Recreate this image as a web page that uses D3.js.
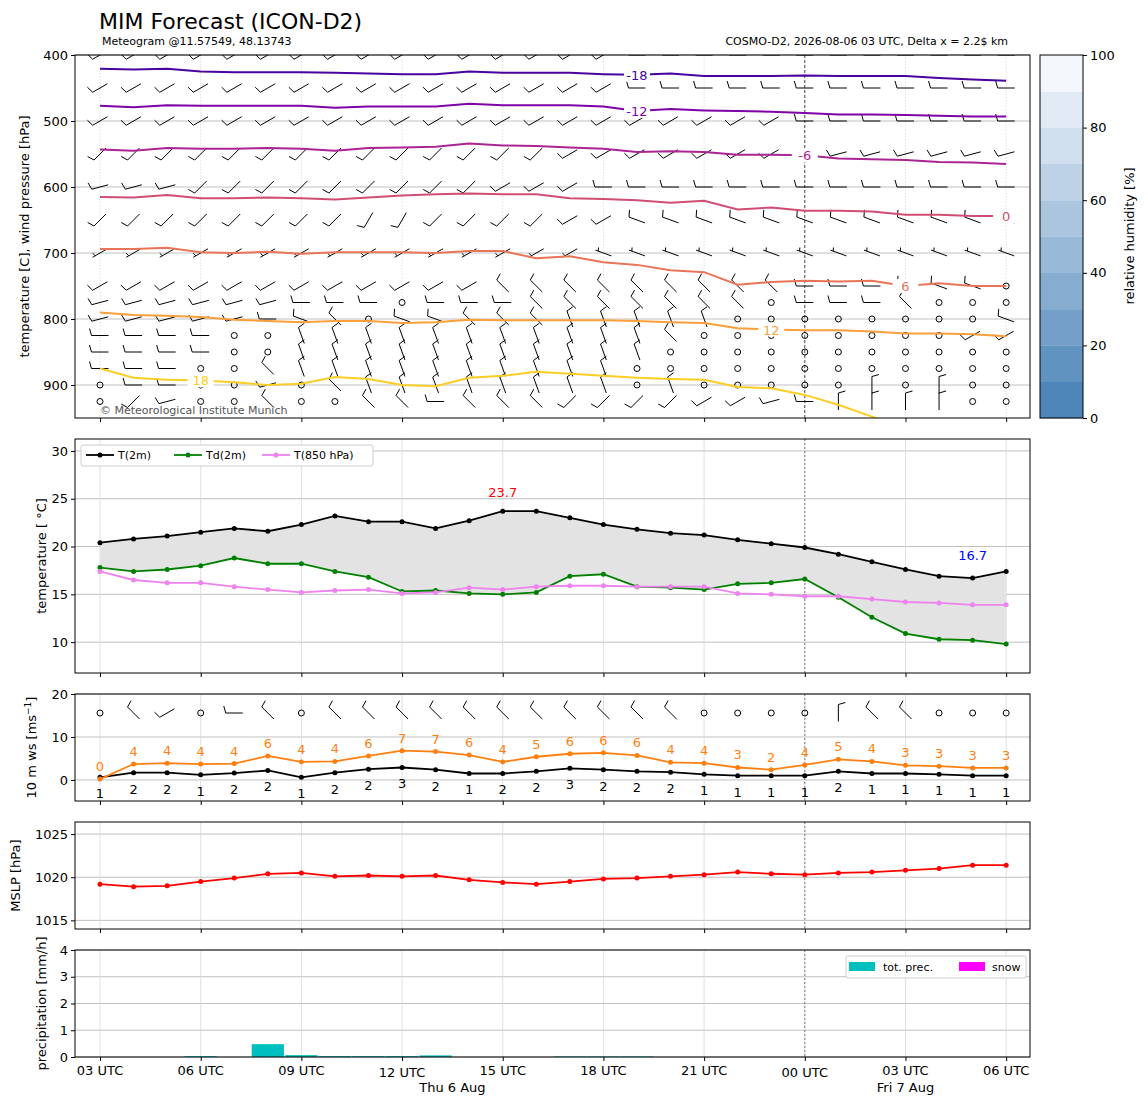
<!DOCTYPE html>
<html><head><meta charset="utf-8">
<script src="https://cdn.jsdelivr.net/npm/d3@7"></script>
<style>body{margin:0;background:#fff}text{font-family:"DejaVu Sans",sans-serif}</style>
</head><body><svg id="c" width="1148" height="1105"></svg>
<script>
// ---------- DATA ----------
const hours = d3.range(28); // hourly from 03 UTC Thu 6 Aug
const tickHours = [0,3,6,9,12,15,18,21,24,27];
const tickLabels = ["03 UTC","06 UTC","09 UTC","12 UTC","15 UTC","18 UTC","21 UTC","00 UTC","03 UTC","06 UTC"];
const dateLabels = [{h:10.5,t:"Thu 6 Aug"},{h:24,t:"Fri 7 Aug"}];
const t2m = [20.4,20.8,21.1,21.5,21.9,21.6,22.3,23.2,22.6,22.6,21.9,22.7,23.7,23.7,23.0,22.3,21.8,21.4,21.2,20.7,20.3,19.9,19.2,18.4,17.6,16.9,16.7,17.4];
const td2m = [17.8,17.4,17.6,18.0,18.8,18.2,18.2,17.4,16.8,15.3,15.4,15.1,15.0,15.2,16.9,17.1,15.8,15.7,15.5,16.1,16.2,16.6,14.7,12.6,10.9,10.3,10.2,9.8];
const t850 = [17.4,16.5,16.2,16.2,15.8,15.5,15.2,15.4,15.5,15.1,15.2,15.7,15.5,15.8,15.9,15.9,15.8,15.8,15.8,15.1,15.0,14.8,14.8,14.5,14.2,14.1,13.9,13.9];
const wsMean = [0.6,1.7,1.7,1.2,1.6,2.2,0.6,1.7,2.5,2.9,2.4,1.5,1.5,2.0,2.7,2.4,2.0,1.8,1.3,1.0,1.0,1.0,2.0,1.5,1.5,1.3,1.0,1.0];
const wsMeanLbl = [1,2,2,1,2,2,1,2,2,3,2,1,2,2,3,2,2,2,1,1,1,1,2,1,1,1,1,1];
const wsGust = [0.2,3.7,3.9,3.7,3.8,5.6,4.2,4.3,5.6,6.8,6.6,5.8,4.2,5.4,6.1,6.3,5.7,4.1,3.9,2.9,2.4,3.5,4.8,4.3,3.4,3.2,2.8,2.8];
const wsGustLbl = [0,4,4,4,4,6,4,4,6,7,7,6,4,5,6,6,6,4,4,3,2,4,5,4,3,3,3,3];
const mslp = [1019.2,1018.9,1019.0,1019.5,1019.9,1020.4,1020.5,1020.1,1020.2,1020.1,1020.2,1019.7,1019.4,1019.2,1019.5,1019.8,1019.9,1020.1,1020.3,1020.6,1020.4,1020.3,1020.5,1020.6,1020.8,1021.0,1021.4,1021.4];
const precip = [0,0,0,0.03,0,0.48,0.07,0.03,0.03,0.03,0.06,0,0,0,0.02,0.02,0.02,0,0,0,0,0,0,0,0,0,0,0];
const snow = hours.map(()=>0);
const rhTicks = [0,20,40,60,80,100];
const isoLevels = [-18,-12,-6,0,6,12,18];
const isoP = [
 [421,422,421,425,426,426,426,427,428,429,429,425,427,427,427,429,430,428,432,432,432,431,432,432,432,435,437,439],
 [477,479,476,477,477,477,477,480,478,478,478,474,476,476,476,478,485,482,484,485,486,488,490,490,491,492,493,493],
 [543,545,541,542,542,541,542,545,541,540,539,534,537,538,540,542,547,546,547,551,551,552,557,558,559,562,563,565],
 [615,616,612,617,617,616,617,619,616,613,611,610,611,611,617,618,620,624,621,634,631,636,636,637,642,642,644,644],
 [694,694,692,699,700,698,701,699,699,699,700,697,697,708,705,714,718,726,729,748,744,742,743,742,750,746,750,750],
 [790,794,795,797,801,803,805,803,803,806,805,801,802,802,802,802,803,805,806,814,816,817,817,819,822,822,823,826],
 [875,889,892,893,896,900,898,888,891,900,902,889,886,880,883,886,889,891,892,903,905,915,930,948,965,980,990,1000]];
const isoLabelHour = [16,16,21,27,24,20,3];
const barbLevels = [400,450,500,550,600,650,700,750,775,800,825,850,875,900,925];
const barbSpeed  = [10,10,10,10,10,10,5,10,10,10,10,10,10,10,10];
// direction codes per level (a=225 s=210 b=240 c=255 w=270 x=290 n=315 N=340 v=360 o=calm)
const barbDirs = [
 "bbbbbbbbbbbbbbbbwwwwwwwwwwww",
 "bbbbbbbbbbbbbbbbwwwwwwwwwwww",
 "bbbbbbbbbbbbbbbbbbbbbwwwwwww",
 "aaaaaaaaaaaaaabbbbbbbccccccc",
 "cccaaaaaaaaabbbwwwwwwwwwwwww",
 "aaaaaaaassaaaabbxxxxxxxxxxxx",
 "bbbbbbbbbbbbbbbxxxxxxxxxxxxx",
 "bbbbbbbbbbbbnnnnnnnnnwwwxxxo",
 "ccccccwwwowwwnnnnnnnowwwnooo",
 "cccccwxnoxxnnnNNNNNoooooooox",
 "wwwwooNNNNNNNNNNNnoooooooobb",
 "wwwwooNNNNNNNNNNNooooooooooo",
 "wwwoonNNNNNNNNNNoooooooooooo",
 "owwooconNNNNNNNNoNooooovovoo",
 "oacoonoonnwnnnaaaabbcwvvvvoo"];
const barb10m = "onbownonnnnnnnnnnnoooovnnooo";
const dirMap = {a:225,s:210,b:240,c:255,w:270,x:290,n:315,N:340,v:360};

// ---------- LAYOUT ----------
const svg = d3.select("#c");
const X0=75, X1=1030;
const x = d3.scaleLinear().domain([-0.745,27.71]).range([X0,X1]);
const panels = [
 {y0:55,y1:418}, {y0:439,y1:673}, {y0:694,y1:801}, {y0:822,y1:929}, {y0:950,y1:1057}];
const yP = d3.scaleLinear().domain([400,950]).range([55,418]);
const yT = d3.scaleLinear().domain([6.77,31.25]).range([673,439]);
const yW = d3.scaleLinear().domain([-4.9,20]).range([801,694]);
const yM = d3.scaleLinear().domain([1014.0,1026.4]).range([929,822]);
const yR = d3.scaleLinear().domain([0,4]).range([1057,950]);
const plasma = t => d3.interpolatePlasma(t);
const isoColor = [plasma(0.12),plasma(0.25),plasma(0.38),plasma(0.52),plasma(0.65),plasma(0.78),plasma(0.9)];

const defs = svg.append("defs");
panels.forEach((p,i)=>defs.append("clipPath").attr("id","cp"+i).append("rect")
  .attr("x",X0).attr("y",p.y0).attr("width",X1-X0).attr("height",p.y1-p.y0));

function frame(i, yscale, ticks, label){
  const p=panels[i];
  const g=svg.append("g");
  g.selectAll(".hg").data(ticks).join("line").attr("x1",X0).attr("x2",X1)
   .attr("y1",d=>yscale(d)).attr("y2",d=>yscale(d)).attr("stroke","#b0b0b0").attr("stroke-width",0.8);
  g.selectAll(".vg").data(tickHours).join("line").attr("y1",p.y0).attr("y2",p.y1)
   .attr("x1",d=>x(d)).attr("x2",d=>x(d)).attr("stroke","#d8d8d8").attr("stroke-width",0.8)
   .attr("stroke-dasharray", i==0?"1.5,1.5":null);
  g.append("line").attr("x1",x(21)).attr("x2",x(21)).attr("y1",p.y0).attr("y2",p.y1)
   .attr("stroke", i==0?"#000":"#555").attr("stroke-width",0.7).attr("stroke-dasharray",i==0?"3,2":"2,2");
  const ax = svg.append("g").attr("transform",`translate(${X0},0)`)
   .call(d3.axisLeft(yscale).tickValues(ticks).tickSize(4).tickFormat(d3.format("d")));
  ax.select(".domain").remove();
  ax.selectAll("text").attr("font-size",13).attr("fill","#000");
  const xa = svg.append("g").attr("transform",`translate(0,${p.y1})`)
   .call(d3.axisBottom(x).tickValues(tickHours).tickSize(4).tickFormat(""));
  xa.select(".domain").remove();
  svg.append("text").attr("transform",`translate(${i==0?29:(i==2?36:i==3?20:46)},${(p.y0+p.y1)/2}) rotate(-90)`)
   .attr("text-anchor","middle").attr("font-size",13).html(label);
}
function border(i){const p=panels[i];svg.append("rect").attr("x",X0).attr("y",p.y0).attr("width",X1-X0)
  .attr("height",p.y1-p.y0).attr("fill","none").attr("stroke","#000").attr("stroke-width",1);}

// ---------- PANEL 1 ----------
frame(0,yP,[400,500,600,700,800,900],"temperature [C], wind pressure [hPa]");
const g1 = svg.append("g").attr("clip-path","url(#cp0)");
function drawBarb(g, cx, cy, dir, spd){
  const r = dir*Math.PI/180, L=17;
  const ux=Math.sin(r), uy=-Math.cos(r);
  const x1=cx-ux*L/2, y1=cy-uy*L/2, x2=cx+ux*L/2, y2=cy+uy*L/2;
  g.append("line").attr("x1",x1).attr("y1",y1).attr("x2",x2).attr("y2",y2).attr("stroke","#000").attr("stroke-width",1);
  const sx=-ux, sy=-uy; const px=sy, py=-sx;
  let n10=Math.floor(spd/10), n5 = (spd%10)>=5?1:0, off=0;
  for(let k=0;k<n10;k++){g.append("line").attr("x1",x2-ux*off).attr("y1",y2-uy*off)
     .attr("x2",x2-ux*off+px*7+ux*2).attr("y2",y2-uy*off+py*7+uy*2).attr("stroke","#000").attr("stroke-width",1);off+=3;}
  if(n5){ if(n10==0) off=3; g.append("line").attr("x1",x2-ux*off).attr("y1",y2-uy*off)
     .attr("x2",x2-ux*off+px*3.5+ux*1).attr("y2",y2-uy*off+py*3.5+uy*1).attr("stroke","#000").attr("stroke-width",1);}
}
function drawCalm(g,cx,cy){g.append("circle").attr("cx",cx).attr("cy",cy).attr("r",3).attr("fill","none").attr("stroke","#000").attr("stroke-width",1);}
barbLevels.forEach((lev,li)=>{
  hours.forEach(h=>{
    const c = barbDirs[li][h];
    if(c==="o") drawCalm(g1,x(h),yP(lev)); else drawBarb(g1,x(h),yP(lev),dirMap[c],barbSpeed[li]);
  });
});
const line1 = d3.line().x((d,i)=>x(i)).y(d=>yP(d));
isoP.forEach((arr,k)=>{
  g1.append("path").datum(arr).attr("d",line1).attr("fill","none").attr("stroke",isoColor[k]).attr("stroke-width",2);
  const h=isoLabelHour[k]; const lx = x(h), ly=yP(arr[h]);
  g1.append("rect").attr("x",lx-13).attr("y",ly-7).attr("width",26).attr("height",14).attr("fill","#fff");
  g1.append("text").attr("x",lx).attr("y",ly+5).attr("text-anchor","middle").attr("font-size",13)
    .attr("fill",isoColor[k]).text(isoLevels[k]);
});
svg.append("text").attr("x",100).attr("y",414).attr("font-size",11).attr("fill","#555").text("© Meteorological Institute Munich");
border(0);

// colorbar
const cb = svg.append("g");
const yC = d3.scaleLinear().domain([0,100]).range([418,55]);
const cbCol = d3.interpolateRgb("#4f86ba","#f4f8fc");
d3.range(0,100,10).forEach(v=>{
  cb.append("rect").attr("x",1040).attr("width",43).attr("y",yC(v+10)).attr("height",yC(v)-yC(v+10)+0.3)
    .attr("fill",cbCol(v/90));
});
cb.append("rect").attr("x",1040).attr("y",55).attr("width",43).attr("height",363).attr("fill","none").attr("stroke","#000");
const cax = svg.append("g").attr("transform","translate(1083,0)").call(d3.axisRight(yC).tickValues(rhTicks).tickSize(4));
cax.select(".domain").remove(); cax.selectAll("text").attr("font-size",13);
svg.append("text").attr("transform","translate(1134,236) rotate(-90)").attr("text-anchor","middle").attr("font-size",13).text("relative humidity [%]");

// ---------- PANEL 2 ----------
frame(1,yT,[10,15,20,25,30],"temperature [ °C]");
const g2 = svg.append("g").attr("clip-path","url(#cp1)");
g2.append("path").datum(hours).attr("d",d3.area().x(h=>x(h)).y0(h=>yT(td2m[h])).y1(h=>yT(t2m[h]))).attr("fill","#e3e3e3");
const series2=[{d:t2m,c:"#000",n:"T(2m)"},{d:td2m,c:"green",n:"Td(2m)"},{d:t850,c:"violet",n:"T(850 hPa)"}];
series2.forEach(s=>{
  g2.append("path").datum(s.d).attr("d",d3.line().x((d,i)=>x(i)).y(d=>yT(d))).attr("fill","none").attr("stroke",s.c).attr("stroke-width",1.8);
  g2.selectAll(null).data(s.d).join("circle").attr("cx",(d,i)=>x(i)).attr("cy",d=>yT(d)).attr("r",2.5).attr("fill",s.c);
});
const imax=t2m.indexOf(d3.max(t2m)), imin=d3.minIndex(t2m);
svg.append("text").attr("x",x(imax)).attr("y",yT(t2m[imax])-14).attr("text-anchor","middle").attr("font-size",13).attr("fill","red").text(d3.max(t2m).toFixed(1));
svg.append("text").attr("x",x(imin)).attr("y",yT(t2m[imin])-18).attr("text-anchor","middle").attr("font-size",13).attr("fill","blue").text(d3.min(t2m).toFixed(1));
const lg=svg.append("g");
lg.append("rect").attr("x",81).attr("y",445).attr("width",292).attr("height",21).attr("rx",2).attr("fill","#fff").attr("stroke","#ccc");
[[86,0],[174,1],[262,2]].forEach(([lx,k])=>{
  lg.append("line").attr("x1",lx).attr("x2",lx+28).attr("y1",455).attr("y2",455).attr("stroke",series2[k].c).attr("stroke-width",1.8);
  lg.append("circle").attr("cx",lx+14).attr("cy",455).attr("r",2.5).attr("fill",series2[k].c);
  lg.append("text").attr("x",lx+32).attr("y",459).attr("font-size",11).text(series2[k].n);
});
border(1);

// ---------- PANEL 3 ----------
frame(2,yW,[0,10,20],"10 m ws [ms<tspan dy='-5' font-size='9'>−1</tspan><tspan dy='5'>]</tspan>");
const g3 = svg.append("g").attr("clip-path","url(#cp2)");
hours.forEach(h=>{const c=barb10m[h]; if(c==="o") drawCalm(g3,x(h),713); else drawBarb(g3,x(h),713,dirMap[c],10);});
[[wsMean,"#000"],[wsGust,"#ff7f0e"]].forEach(([d,c])=>{
  g3.append("path").datum(d).attr("d",d3.line().x((v,i)=>x(i)).y(v=>yW(v))).attr("fill","none").attr("stroke",c).attr("stroke-width",1.8);
  g3.selectAll(null).data(d).join("circle").attr("cx",(v,i)=>x(i)).attr("cy",v=>yW(v)).attr("r",2.5).attr("fill",c);
});
svg.append("g").selectAll("text").data(wsMeanLbl).join("text").attr("x",(v,i)=>x(i)).attr("y",(v,i)=>yW(wsMean[i])+21)
  .attr("text-anchor","middle").attr("font-size",13).text(d=>d);
svg.append("g").selectAll("text").data(wsGustLbl).join("text").attr("x",(v,i)=>x(i)).attr("y",(v,i)=>yW(wsGust[i])-8)
  .attr("text-anchor","middle").attr("font-size",13).attr("fill","#ff7f0e").text(d=>d);
border(2);

// ---------- PANEL 4 ----------
frame(3,yM,[1015,1020,1025],"MSLP [hPa]");
const g4 = svg.append("g").attr("clip-path","url(#cp3)");
g4.append("path").datum(mslp).attr("d",d3.line().x((v,i)=>x(i)).y(v=>yM(v))).attr("fill","none").attr("stroke","red").attr("stroke-width",1.8);
g4.selectAll(null).data(mslp).join("circle").attr("cx",(v,i)=>x(i)).attr("cy",v=>yM(v)).attr("r",2.5).attr("fill","red");
border(3);

// ---------- PANEL 5 ----------
frame(4,yR,[0,1,2,3,4],"precipitation [mm/h]");
const g5 = svg.append("g").attr("clip-path","url(#cp4)");
const bw = x(1)-x(0);
g5.selectAll(null).data(precip).join("rect").attr("x",(v,i)=>x(i)-bw*0.48).attr("width",bw*0.96)
  .attr("y",v=>yR(v)).attr("height",v=>yR(0)-yR(v)).attr("fill","#00bfbf");
g5.selectAll(null).data(snow).join("rect").attr("x",(v,i)=>x(i)-bw*0.48).attr("width",bw*0.96)
  .attr("y",v=>yR(v)).attr("height",v=>yR(0)-yR(v)).attr("fill","magenta");
const lg5=svg.append("g");
lg5.append("rect").attr("x",846).attr("y",956).attr("width",180).attr("height",22).attr("rx",2).attr("fill","#fff").attr("stroke","#ccc");
lg5.append("rect").attr("x",849).attr("y",962).attr("width",26).attr("height",9).attr("fill","#00bfbf");
lg5.append("text").attr("x",883).attr("y",971).attr("font-size",11).text("tot. prec.");
lg5.append("rect").attr("x",959).attr("y",962).attr("width",26).attr("height",9).attr("fill","magenta");
lg5.append("text").attr("x",992).attr("y",971).attr("font-size",11).text("snow");
border(4);
tickHours.forEach((h,i)=>{
  svg.append("text").attr("x",x(h)).attr("y",(h===9||h===21)? 1077: 1075).attr("text-anchor","middle").attr("font-size",13).text(tickLabels[i]);
});
dateLabels.forEach(d=>svg.append("text").attr("x",x(d.h)).attr("y",1092).attr("text-anchor","middle").attr("font-size",13).text(d.t));

// titles
svg.append("text").attr("x",99).attr("y",29).attr("font-size",22).text("MIM Forecast (ICON-D2)");
svg.append("text").attr("x",102).attr("y",45).attr("font-size",11).text("Meteogram @11.57549, 48.13743");
svg.append("text").attr("x",1008).attr("y",45).attr("text-anchor","end").attr("font-size",11).text("COSMO-D2, 2026-08-06 03 UTC, Delta x = 2.2$ km");
</script></body></html>
